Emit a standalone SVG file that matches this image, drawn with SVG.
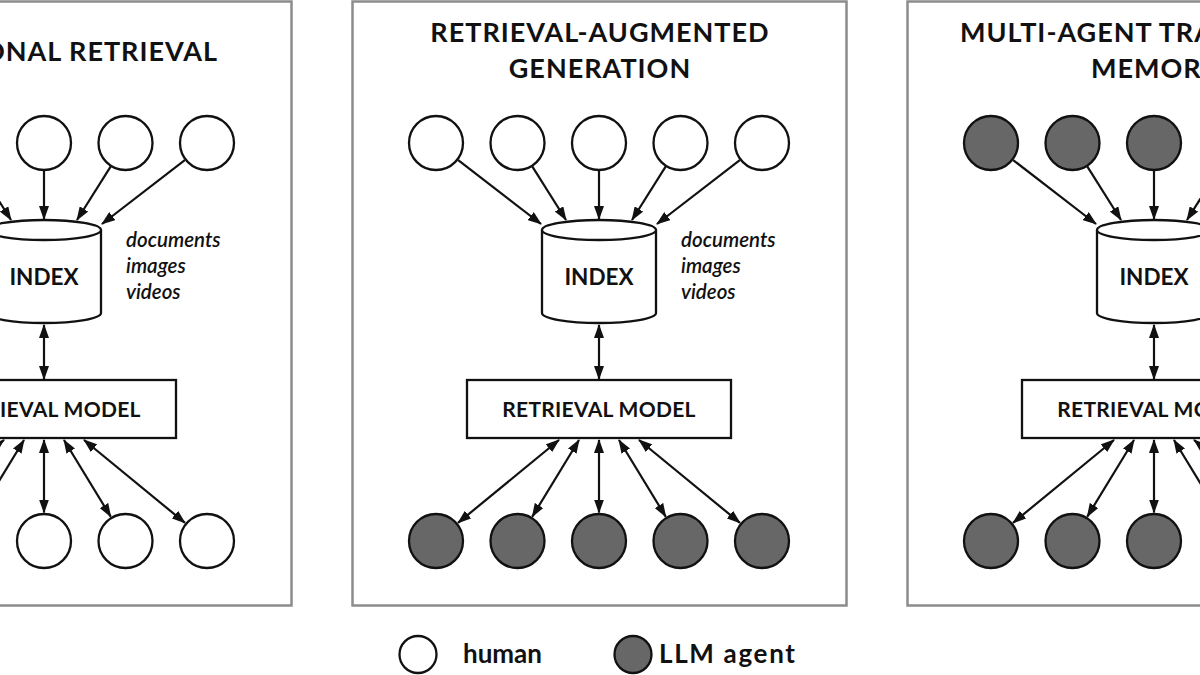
<svg xmlns="http://www.w3.org/2000/svg" width="1200" height="675" viewBox="0 0 1200 675">
<style>
.bg{fill:#ffffff}
.panel{fill:#ffffff;stroke:#8c8c8c;stroke-width:2.5}
.h{fill:#ffffff;stroke:#111;stroke-width:2.3}
.a{fill:#676767;stroke:#111;stroke-width:2.3}
.cyl{fill:#ffffff;stroke:#111;stroke-width:2.3}
.box{fill:#ffffff;stroke:#111;stroke-width:2.3}
.ln{fill:none;stroke:#111;stroke-width:2.2}
.one{marker-end:url(#ah)}
.two{marker-start:url(#ah);marker-end:url(#ah)}
.title{font-family:Lato,"Open Sans","Liberation Sans",sans-serif;font-weight:bold;font-size:27px;letter-spacing:1px;fill:#111}
.lbl{font-family:Lato,"Open Sans","Liberation Sans",sans-serif;font-weight:bold;font-size:22.5px;fill:#111}
.mdl{font-family:Lato,"Open Sans","Liberation Sans",sans-serif;font-weight:bold;font-size:21px;letter-spacing:0.3px;fill:#111}
.it{font-family:Lato,"Open Sans","Liberation Sans",sans-serif;font-style:italic;font-weight:600;font-size:20.5px;fill:#111}
.leg{font-family:Lato,"Open Sans","Liberation Sans",sans-serif;font-weight:bold;font-size:26px;fill:#111}
</style>
<defs>
<marker id="ah" viewBox="0 0 14 10" refX="13" refY="5" markerWidth="14" markerHeight="10" markerUnits="userSpaceOnUse" orient="auto-start-reverse"><path d="M0,0 L14,5 L0,10 z" fill="#111"/></marker>
</defs>
<rect class="bg" x="0" y="0" width="1200" height="675"/>

<!-- LEFT PANEL -->
<g id="panel-left">
<rect class="panel" x="-202.5" y="1.5" width="494" height="604"/>
<text class="title" x="218" y="61" text-anchor="end">TRADITIONAL RETRIEVAL</text>
<g transform="translate(-555 0)">
<g id="connectors-left">
<path class="ln one" d="M458.2,160.1 L541,224"/>
<path class="ln one" d="M532.4,166.7 L566,220"/>
<path class="ln one" d="M599,171 L599,219"/>
<path class="ln one" d="M665.6,166.7 L632,220"/>
<path class="ln one" d="M739.8,160.1 L657,224"/>
<path class="ln two" d="M599,325 L599,379"/>
<path class="ln two" d="M559,440 L458,522.9"/>
<path class="ln two" d="M579,440 L532.3,516.6"/>
<path class="ln two" d="M599,440 L599,512.5"/>
<path class="ln two" d="M619,440 L665.7,516.6"/>
<path class="ln two" d="M639,440 L740,522.9"/>
</g>
<g id="l-top-1"><circle class="h" cx="436" cy="143" r="27"/></g>
<g id="l-top-2"><circle class="h" cx="517.5" cy="143" r="27"/></g>
<g id="l-top-3"><circle class="h" cx="599" cy="143" r="27"/></g>
<g id="l-top-4"><circle class="h" cx="680.5" cy="143" r="27"/></g>
<g id="l-top-5"><circle class="h" cx="762" cy="143" r="27"/></g>
<g id="l-index">
<path class="cyl" d="M542,230 L542,313 A57,10 0 0 0 656,313 L656,230"/>
<ellipse class="cyl" cx="599" cy="230" rx="57" ry="10"/>
<text class="lbl" x="599" y="285" text-anchor="middle">INDEX</text>
</g>
<g id="l-content">
<text class="it" x="681" y="247">documents</text>
<text class="it" x="681" y="273">images</text>
<text class="it" x="681" y="299">videos</text>
</g>
<g id="l-model">
<rect class="box" x="467" y="380" width="264" height="58"/>
<text class="mdl" x="599" y="417" text-anchor="middle">RETRIEVAL MODEL</text>
</g>
<g id="l-bot-1"><circle class="h" cx="436" cy="541" r="27"/></g>
<g id="l-bot-2"><circle class="h" cx="517.5" cy="541" r="27"/></g>
<g id="l-bot-3"><circle class="h" cx="599" cy="541" r="27"/></g>
<g id="l-bot-4"><circle class="h" cx="680.5" cy="541" r="27"/></g>
<g id="l-bot-5"><circle class="h" cx="762" cy="541" r="27"/></g>
</g>
</g>

<!-- MIDDLE PANEL -->
<g id="panel-mid">
<rect class="panel" x="352.5" y="1.5" width="494" height="604"/>
<text class="title" x="600" y="42" text-anchor="middle">RETRIEVAL-AUGMENTED</text>
<text class="title" x="600" y="77.5" text-anchor="middle">GENERATION</text>
<g id="connectors-mid">
<path class="ln one" d="M458.2,160.1 L541,224"/>
<path class="ln one" d="M532.4,166.7 L566,220"/>
<path class="ln one" d="M599,171 L599,219"/>
<path class="ln one" d="M665.6,166.7 L632,220"/>
<path class="ln one" d="M739.8,160.1 L657,224"/>
<path class="ln two" d="M599,325 L599,379"/>
<path class="ln two" d="M559,440 L458,522.9"/>
<path class="ln two" d="M579,440 L532.3,516.6"/>
<path class="ln two" d="M599,440 L599,512.5"/>
<path class="ln two" d="M619,440 L665.7,516.6"/>
<path class="ln two" d="M639,440 L740,522.9"/>
</g>
<g id="m-top-1"><circle class="h" cx="436" cy="143" r="27"/></g>
<g id="m-top-2"><circle class="h" cx="517.5" cy="143" r="27"/></g>
<g id="m-top-3"><circle class="h" cx="599" cy="143" r="27"/></g>
<g id="m-top-4"><circle class="h" cx="680.5" cy="143" r="27"/></g>
<g id="m-top-5"><circle class="h" cx="762" cy="143" r="27"/></g>
<g id="m-index">
<path class="cyl" d="M542,230 L542,313 A57,10 0 0 0 656,313 L656,230"/>
<ellipse class="cyl" cx="599" cy="230" rx="57" ry="10"/>
<text class="lbl" x="599" y="285" text-anchor="middle">INDEX</text>
</g>
<g id="m-content">
<text class="it" x="681" y="247">documents</text>
<text class="it" x="681" y="273">images</text>
<text class="it" x="681" y="299">videos</text>
</g>
<g id="m-model">
<rect class="box" x="467" y="380" width="264" height="58"/>
<text class="mdl" x="599" y="417" text-anchor="middle">RETRIEVAL MODEL</text>
</g>
<g id="m-bot-1"><circle class="a" cx="436" cy="541" r="27"/></g>
<g id="m-bot-2"><circle class="a" cx="517.5" cy="541" r="27"/></g>
<g id="m-bot-3"><circle class="a" cx="599" cy="541" r="27"/></g>
<g id="m-bot-4"><circle class="a" cx="680.5" cy="541" r="27"/></g>
<g id="m-bot-5"><circle class="a" cx="762" cy="541" r="27"/></g>
</g>

<!-- RIGHT PANEL -->
<g id="panel-right">
<rect class="panel" x="907.5" y="1.5" width="494" height="604"/>
<text class="title" x="960" y="42">MULTI-AGENT TRANSACTIVE</text>
<text class="title" x="1091" y="77.5">MEMORY</text>
<g transform="translate(555 0)">
<g id="connectors-right">
<path class="ln one" d="M458.2,160.1 L541,224"/>
<path class="ln one" d="M532.4,166.7 L566,220"/>
<path class="ln one" d="M599,171 L599,219"/>
<path class="ln one" d="M665.6,166.7 L632,220"/>
<path class="ln one" d="M739.8,160.1 L657,224"/>
<path class="ln two" d="M599,325 L599,379"/>
<path class="ln two" d="M559,440 L458,522.9"/>
<path class="ln two" d="M579,440 L532.3,516.6"/>
<path class="ln two" d="M599,440 L599,512.5"/>
<path class="ln two" d="M619,440 L665.7,516.6"/>
<path class="ln two" d="M639,440 L740,522.9"/>
</g>
<g id="r-top-1"><circle class="a" cx="436" cy="143" r="27"/></g>
<g id="r-top-2"><circle class="a" cx="517.5" cy="143" r="27"/></g>
<g id="r-top-3"><circle class="a" cx="599" cy="143" r="27"/></g>
<g id="r-top-4"><circle class="a" cx="680.5" cy="143" r="27"/></g>
<g id="r-top-5"><circle class="a" cx="762" cy="143" r="27"/></g>
<g id="r-index">
<path class="cyl" d="M542,230 L542,313 A57,10 0 0 0 656,313 L656,230"/>
<ellipse class="cyl" cx="599" cy="230" rx="57" ry="10"/>
<text class="lbl" x="599" y="285" text-anchor="middle">INDEX</text>
</g>
<g id="r-model">
<rect class="box" x="467" y="380" width="264" height="58"/>
<text class="mdl" x="599" y="417" text-anchor="middle">RETRIEVAL MODEL</text>
</g>
<g id="r-bot-1"><circle class="a" cx="436" cy="541" r="27"/></g>
<g id="r-bot-2"><circle class="a" cx="517.5" cy="541" r="27"/></g>
<g id="r-bot-3"><circle class="a" cx="599" cy="541" r="27"/></g>
<g id="r-bot-4"><circle class="a" cx="680.5" cy="541" r="27"/></g>
<g id="r-bot-5"><circle class="a" cx="762" cy="541" r="27"/></g>
</g>
</g>

<!-- LEGEND -->
<g id="legend-human">
<circle class="h" cx="418" cy="654.5" r="18.5"/>
<text class="leg" x="463" y="663">human</text>
</g>
<g id="legend-agent">
<circle class="a" cx="633" cy="654.5" r="18.5"/>
<text class="leg" x="659" y="663" textLength="136" lengthAdjust="spacing">LLM agent</text>
</g>
</svg>
